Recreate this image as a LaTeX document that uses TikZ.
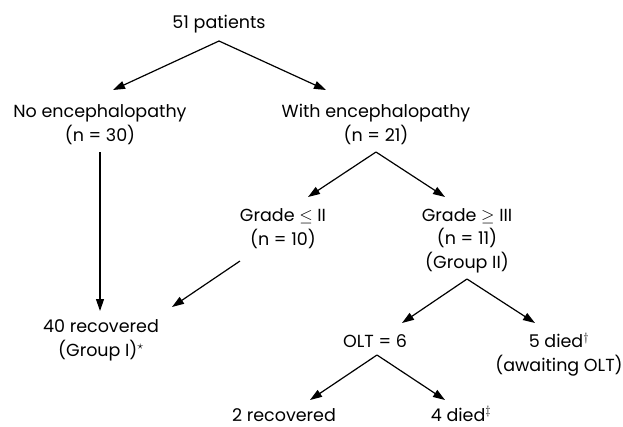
\documentclass[tikz,border=0pt]{standalone}
\usepackage{fontspec}
\setmainfont{Poppins}
\usetikzlibrary{arrows.meta}
\begin{document}
\begin{tikzpicture}[x=1pt,y=-1pt,
  lbl/.style={anchor=base,inner sep=0pt,align=center,font=\fontsize{17.5}{23.5}\selectfont},
  arr/.style={line width=1.2pt,-{Triangle[length=12pt,width=8pt]}},
  ln/.style={line width=1.2pt}]
\useasboundingbox (0,0) rectangle (623,426);
% base anchor = baseline of the last line
\node[lbl] (pat) at (219,28) {51 patients};
\node[lbl] (noenc) at (100,141) {No encephalopathy\\(n = 30)};
\node[lbl] (withenc) at (376,141) {With encephalopathy\\(n = 21)};
\node[lbl] (g2) at (283,245) {Grade $\leq$ II\\(n = 10)};
\node[lbl] (g3) at (467,268) {Grade $\geq$ III\\(n = 11)\\(Group II)};
\node[lbl] (rec) at (101,356) {40 recovered\\(Group I)$^{\star}$};
\node[lbl] (olt) at (375,347) {OLT = 6};
\node[lbl] (died5) at (559,371) {5 died$^{\dagger}$\\(awaiting OLT)};
\node[lbl] (rec2) at (284,421) {2 recovered};
\node[lbl] (died4) at (461,421) {4 died$^{\ddagger}$};
% apex / tip coordinates
\coordinate (a0) at (219,41);
\coordinate (t1) at (113,90);
\coordinate (t2) at (326,90);
\coordinate (b1) at (100,152);
\coordinate (t3) at (100,311);
\coordinate (a1) at (376,152);
\coordinate (t4) at (308,197);
\coordinate (t5) at (445,197);
\coordinate (b2) at (240,261);
\coordinate (t6) at (172,307);
\coordinate (a2) at (467,279);
\coordinate (t7) at (402,323);
\coordinate (t8) at (535,323);
\coordinate (a3) at (377,355);
\coordinate (t9) at (310,400);
\coordinate (t10) at (445,400);
\draw[arr] (a0) -- (t1);
\draw[arr] (a0) -- (t2);
\draw[arr] (b1) -- (t3);
\draw[arr] (a1) -- (t4);
\draw[arr] (a1) -- (t5);
\draw[arr] (b2) -- (t6);
\draw[arr] (a2) -- (t7);
\draw[arr] (a2) -- (t8);
\draw[arr] (a3) -- (t9);
\draw[arr] (a3) -- (t10);
\end{tikzpicture}
\end{document}
